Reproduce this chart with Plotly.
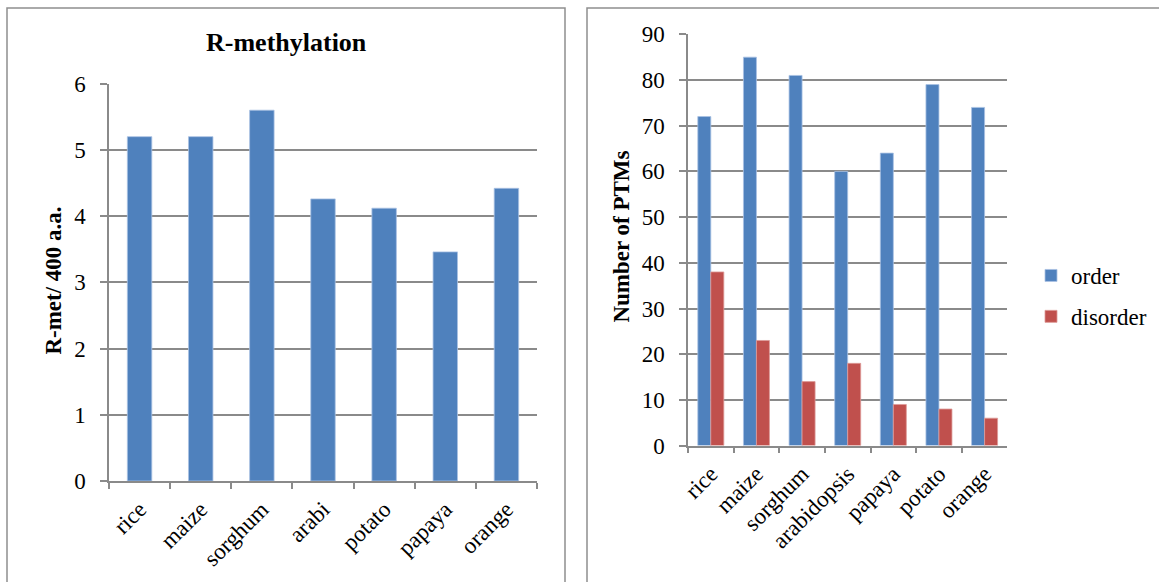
import plotly.graph_objects as go

# R-methylation per 400 amino acids
species_short = ["rice", "maize", "sorghum", "arabi", "potato", "papaya", "orange"]
r_met = [5.2, 5.2, 5.6, 4.26, 4.12, 3.46, 4.42]

# PTM counts in ordered vs disordered regions
species_full = ["rice", "maize", "sorghum", "arabidopsis", "papaya", "potato", "orange"]
order_counts = [72, 85, 81, 60, 64, 79, 74]
disorder_counts = [38, 23, 14, 18, 9, 8, 6]

W, H = 1159, 582
BLUE = "#4F81BD"
RED = "#C0504D"
GRID = "#8a8a8a"
FONT = "Liberation Serif"


def px_x(v):
    return v / W


def px_y(v):
    return (H - v) / H


fig = go.Figure()

fig.add_trace(go.Bar(
    x=species_short, y=r_met, xaxis="x", yaxis="y", width=0.4,
    marker=dict(color=BLUE, line=dict(color="#a9c1e3", width=0.8)),
    showlegend=False,
))
fig.add_trace(go.Bar(
    x=species_full, y=order_counts, xaxis="x2", yaxis="y2", name="order",
    legendgroup="order",
    marker=dict(color=BLUE, line=dict(color="#a9c1e3", width=0.8)),
))
fig.add_trace(go.Bar(
    x=species_full, y=disorder_counts, xaxis="x2", yaxis="y2", name="disorder",
    legendgroup="disorder",
    marker=dict(color=RED, line=dict(color="#dd9a98", width=0.8)),
))

tick_font = dict(family=FONT, size=23, color="black")

xcommon = dict(
    automargin=False,
    showline=True, linecolor=GRID, linewidth=1.5,
    ticks="outside", tickson="boundaries", ticklen=6, tickcolor=GRID, tickwidth=1.5,
    tickangle=-45, tickfont=tick_font, showgrid=False, fixedrange=True,
    ticklabelstandoff=4,
)
ycommon = dict(
    automargin=False,
    showline=True, linecolor=GRID, linewidth=1.5,
    showgrid=True, gridcolor=GRID, gridwidth=1.5,
    ticks="outside", ticklen=7, tickcolor=GRID, tickwidth=1.5,
    tickfont=tick_font, zeroline=False, fixedrange=True,
    ticklabelstandoff=10,
)

fig.update_layout(
    template="none",
    width=W, height=H, autosize=False,
    margin=dict(l=0, r=0, t=0, b=0, pad=0),
    paper_bgcolor="white", plot_bgcolor="white",
    font=dict(family=FONT, color="black"),
    barmode="group",
    bargap=0.43, bargroupgap=0.0,
    xaxis=dict(domain=[px_x(109), px_x(537)], anchor="y", **xcommon),
    yaxis=dict(domain=[px_y(481), px_y(83.7)], anchor="x", range=[0, 6],
               dtick=1, **ycommon),
    xaxis2=dict(domain=[px_x(688), px_x(1007.4)], anchor="y2", **xcommon),
    yaxis2=dict(domain=[px_y(445.6), px_y(34.3)], anchor="x2", range=[0, 90],
                dtick=10, **ycommon),
    legend=dict(
        x=px_x(1031), y=px_y(296), xanchor="left", yanchor="middle",
        font=dict(family=FONT, size=23, color="black"),
        tracegroupgap=8, itemwidth=30, bgcolor="rgba(0,0,0,0)",
    ),
    shapes=[
        dict(type="rect", xref="paper", yref="paper",
             x0=px_x(7), x1=px_x(565), y0=px_y(600), y1=px_y(8),
             line=dict(color="#8f8f8f", width=1.5)),
        dict(type="rect", xref="paper", yref="paper",
             x0=px_x(587), x1=px_x(1180), y0=px_y(600), y1=px_y(8),
             line=dict(color="#8f8f8f", width=1.5)),
    ],
    annotations=[
        dict(text="<b>R-methylation</b>", xref="paper", yref="paper",
             x=px_x(286), y=px_y(42.5), xanchor="center", yanchor="middle",
             showarrow=False, font=dict(family=FONT, size=26, color="black")),
        dict(text="<b>R-met/ 400 a.a.</b>", xref="paper", yref="paper",
             x=px_x(53.6), y=px_y(281), xanchor="center", yanchor="middle",
             textangle=-90, showarrow=False,
             font=dict(family=FONT, size=23, color="black")),
        dict(text="<b>Number of PTMs</b>", xref="paper", yref="paper",
             x=px_x(620.6), y=px_y(237), xanchor="center", yanchor="middle",
             textangle=-90, showarrow=False,
             font=dict(family=FONT, size=23, color="black")),
    ],
)

fig.write_html("out.html")
